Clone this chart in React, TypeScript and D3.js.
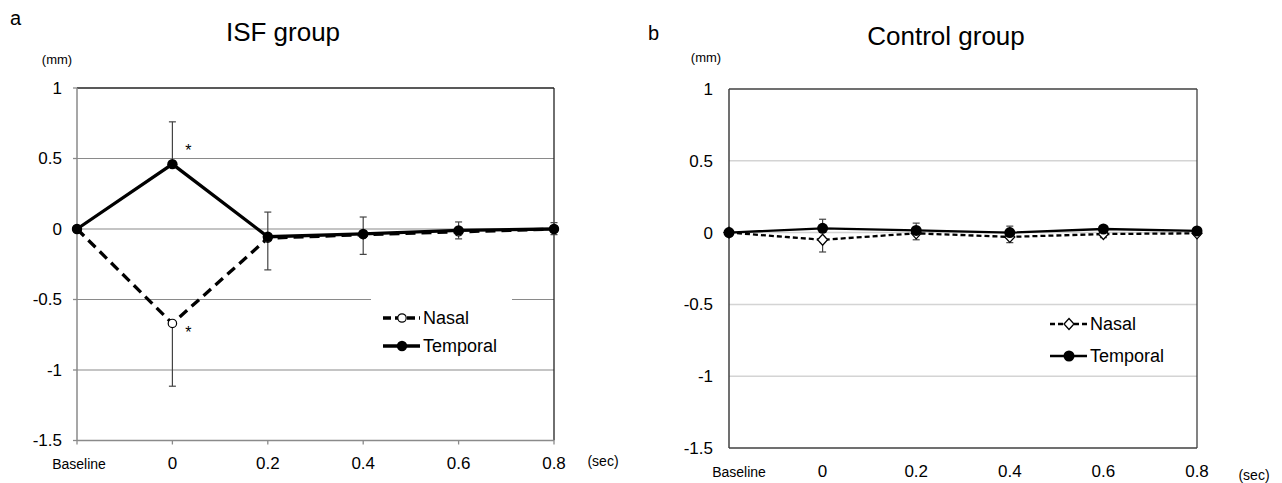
import React from "react";
import * as d3 from "d3";

// categories on the x axis (Baseline + seconds)
const categories = ["Baseline", "0", "0.2", "0.4", "0.6", "0.8"];
const yTicks = [1, 0.5, 0, -0.5, -1, -1.5];

// ISF group (panel a)
const isfNasal = [0, -0.67, -0.065, -0.04, -0.02, 0];
const isfNasalLow = [0, -1.115, -0.29, -0.18, -0.07, -0.04];
const isfTemporal = [0, 0.46, -0.055, -0.035, -0.01, 0];
const isfTemporalHigh = [0, 0.76, 0.12, 0.085, 0.05, 0.045];

// Control group (panel b)
const ctlNasal = [0, -0.05, -0.005, -0.03, -0.01, -0.005];
const ctlNasalLow = [0, -0.135, -0.05, -0.07, -0.035, -0.02];
const ctlTemporal = [0, 0.03, 0.015, 0, 0.025, 0.012];
const ctlTemporalHigh = [0, 0.093, 0.066, 0.045, 0.04, 0.03];

const FONT = "'Liberation Sans', Arial, sans-serif";

const fmt = (v) => (v === 0 ? "0" : String(v));

function Panel(props) {
  const {
    letter, title, box, lbl, nasal, nasalLow, temporal, temporalHigh,
    look, stars,
  } = props;
  const x = d3.scalePoint().domain(categories).range([box.left, box.right]);
  const y = d3.scaleLinear().domain([-1.5, 1]).range([box.bottom, box.top]);
  const xi = (i) => x(categories[i]);
  const line = d3.line().x((_, i) => xi(i)).y((d) => y(d));
  const cap = 3.5;

  const errBars = (vals, ends) =>
    vals.map((v, i) =>
      i === 0 ? null : (
        <g key={i} stroke={look.errColor} strokeWidth={1.2}>
          <line x1={xi(i)} x2={xi(i)} y1={y(v)} y2={y(ends[i])} />
          <line x1={xi(i) - cap} x2={xi(i) + cap} y1={y(ends[i])} y2={y(ends[i])} />
        </g>
      )
    );

  const nasalMark = (cx, cy, key) =>
    look.diamond ? (
      <path key={key} d={`M${cx},${cy - 5.5}L${cx + 5},${cy}L${cx},${cy + 5.5}L${cx - 5},${cy}Z`}
        fill="#fff" stroke="#000" strokeWidth={1.3} />
    ) : (
      <circle key={key} cx={cx} cy={cy} r={4.2} fill="#fff" stroke="#000" strokeWidth={1.2} />
    );

  return (
    <g fontFamily={FONT}>
      <text x={lbl.letterX} y={lbl.letterY} fontSize={20}>{letter}</text>
      <text x={lbl.titleX} y={lbl.titleY} fontSize={26} textAnchor="middle">{title}</text>
      <text x={lbl.mmX} y={lbl.mmY} fontSize={13} textAnchor="middle">(mm)</text>

      {/* gridlines */}
      {yTicks.slice(1, -1).map((t) => (
        <line key={t} x1={box.left} x2={box.right} y1={y(t)} y2={y(t)}
          stroke={look.gridColor} strokeWidth={look.gridWidth} />
      ))}

      {/* frame / axes */}
      <line x1={box.left} x2={box.right} y1={box.top} y2={box.top} stroke={look.frameColor} strokeWidth={1.5} />
      <line x1={box.right} x2={box.right} y1={box.top} y2={box.bottom} stroke={look.frameColor} strokeWidth={1.3} />
      <line x1={box.left} x2={box.left} y1={box.top} y2={box.bottom} stroke={look.axisColor} strokeWidth={1.5} />
      <line x1={box.left} x2={box.right} y1={box.bottom} y2={box.bottom} stroke={look.axisColor} strokeWidth={1.5} />
      {look.ticks &&
        categories.map((c) => (
          <line key={c} x1={x(c)} x2={x(c)} y1={box.bottom} y2={box.bottom + 4} stroke={look.axisColor} strokeWidth={1.3} />
        ))}
      {look.ticks &&
        yTicks.map((t) => (
          <line key={t} x1={box.left - 4} x2={box.left} y1={y(t)} y2={y(t)} stroke={look.axisColor} strokeWidth={1.3} />
        ))}

      {/* y tick labels */}
      {yTicks.map((t) => (
        <text key={t} x={lbl.yLabelX} y={y(t)} dy="0.35em" fontSize={17} textAnchor="end">{fmt(t)}</text>
      ))}
      {/* x tick labels */}
      {categories.map((c, i) => (
        <text key={c} x={i === 0 ? x(c) + lbl.baseShift : x(c)} y={lbl.xLabelY}
          fontSize={i === 0 ? 14 : 17} textAnchor="middle">{c}</text>
      ))}
      <text x={lbl.secX} y={lbl.secY} fontSize={14} textAnchor="middle">(sec)</text>

      {/* legend background */}
      {look.legendBox && (
        <rect x={lbl.legBox[0]} y={lbl.legBox[1]} width={lbl.legBox[2]} height={lbl.legBox[3]} fill="#fff" />
      )}

      {/* error bars */}
      {errBars(nasal, nasalLow)}
      {errBars(temporal, temporalHigh)}

      {/* lines */}
      <path d={line(nasal)} fill="none" stroke="#000" strokeWidth={look.lineWidth} strokeDasharray={look.dash} />
      <path d={line(temporal)} fill="none" stroke="#000" strokeWidth={look.lineWidth} />

      {/* markers */}
      {nasal.map((v, i) => nasalMark(xi(i), y(v), "n" + i))}
      {temporal.map((v, i) => (
        <circle key={"t" + i} cx={xi(i)} cy={y(v)} r={look.dotR} fill="#000" />
      ))}

      {/* significance stars */}
      {stars.map((s, i) => (
        <text key={i} x={xi(s.i) + 16} y={y(s.v) + s.dy} fontSize={16} textAnchor="middle">*</text>
      ))}

      {/* legend */}
      <g>
        <line x1={lbl.legX} x2={lbl.legX + 37} y1={lbl.legY1} y2={lbl.legY1} stroke="#000"
          strokeWidth={look.lineWidth} strokeDasharray={look.legDash} />
        {nasalMark(lbl.legX + 19, lbl.legY1, "ln")}
        <text x={lbl.legX + 40} y={lbl.legY1} dy="0.35em" fontSize={18}>Nasal</text>
        <line x1={lbl.legX} x2={lbl.legX + 37} y1={lbl.legY2} y2={lbl.legY2} stroke="#000" strokeWidth={look.lineWidth} />
        <circle cx={lbl.legX + 19} cy={lbl.legY2} r={look.dotR} fill="#000" />
        <text x={lbl.legX + 40} y={lbl.legY2} dy="0.35em" fontSize={18}>Temporal</text>
      </g>
    </g>
  );
}

export default function App() {
  return (
    <svg width={1282} height={483} style={{ position: "absolute", left: 0, top: 0, background: "#fff" }}>
      <Panel
        letter="a"
        title="ISF group"
        box={{ left: 77, right: 554, top: 88, bottom: 440.5 }}
        lbl={{
          letterX: 10, letterY: 25, titleX: 283, titleY: 41, mmX: 57, mmY: 64,
          yLabelX: 62, xLabelY: 469, baseShift: 2, secX: 603, secY: 466,
          legBox: [371, 298, 141, 66], legX: 383, legY1: 318, legY2: 346,
        }}
        nasal={isfNasal}
        nasalLow={isfNasalLow}
        temporal={isfTemporal}
        temporalHigh={isfTemporalHigh}
        stars={[{ i: 1, v: 0.46, dy: -8 }, { i: 1, v: -0.67, dy: 15 }]}
        look={{
          gridColor: "#8a8a8a", gridWidth: 1.2, frameColor: "#222", axisColor: "#8a8a8a",
          ticks: true, lineWidth: 3.3, dash: "10,6", legDash: "8,4", dotR: 5.2, diamond: false,
          errColor: "#444", legendBox: true,
        }}
      />
      <Panel
        letter="b"
        title="Control group"
        box={{ left: 729, right: 1197, top: 89, bottom: 448 }}
        lbl={{
          letterX: 648, letterY: 40, titleX: 946, titleY: 45, mmX: 706, mmY: 62,
          yLabelX: 713, xLabelY: 477, baseShift: 10, secX: 1254, secY: 480,
          legBox: [0, 0, 0, 0], legX: 1050, legY1: 324, legY2: 356,
        }}
        nasal={ctlNasal}
        nasalLow={ctlNasalLow}
        temporal={ctlTemporal}
        temporalHigh={ctlTemporalHigh}
        stars={[]}
        look={{
          gridColor: "#d4d4d4", gridWidth: 1.5, frameColor: "#404040", axisColor: "#404040",
          ticks: false, lineWidth: 2.3, dash: "5,3", legDash: "5,3", dotR: 5.5, diamond: true,
          errColor: "#444", legendBox: false,
        }}
      />
    </svg>
  );
}
